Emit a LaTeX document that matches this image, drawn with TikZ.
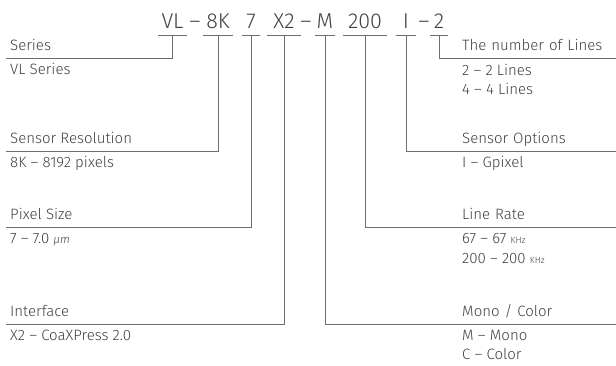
\documentclass[tikz,border=0pt]{standalone}
\usepackage{fontspec}
\setmainfont{Fira Sans}[UprightFont=* Light,ItalicFont=* Light Italic]
\usepackage{xcolor}
\definecolor{ink}{HTML}{404040}
\definecolor{rule}{HTML}{6E6E6E}
\begin{document}
\begin{tikzpicture}[x=1pt,y=-1pt,
	code/.style={anchor=base,font=\fontsize{21.5}{24}\selectfont,text=ink,inner sep=0pt},
	head/.style={anchor=south west,font=\fontsize{15}{18}\selectfont,text=ink,inner xsep=4pt,inner ysep=7pt,text depth=0pt},
	rhead/.style={head,text width=150pt},
	val/.style={anchor=base west,font=\fontsize{15}{18}\selectfont,text=ink,inner sep=0pt},
	bar/.style={draw=rule,line width=1pt},
	lead/.style={draw=rule,line width=1pt}]
		\useasboundingbox (0,0) rectangle (616,365);
		% the code
		\node (vl) [code] at (172.5,28) {VL};
		\node (d1) [code] at (195,28) {--};
		\node (res) [code] at (218,28) {8K};
		\node (px) [code] at (251,28) {7};
		\node (ifc) [code] at (284,28) {X2};
		\node (d2) [code] at (306,28) {--};
		\node (mc) [code] at (325,28) {M};
		\node (rate) [code] at (365,28) {200};
		\node (opt) [code] at (406,28) {I};
		\node (d3) [code] at (424,28) {--};
		\node (nl) [code] at (439,28) {2};
		\coordinate (vlb) at (172.5,35);
		\coordinate (resb) at (218,35);
		\coordinate (pxb) at (251,35);
		\coordinate (ifcb) at (284,35);
		\coordinate (mcb) at (325,35);
		\coordinate (rateb) at (365,35);
		\coordinate (optb) at (406,35);
		\coordinate (nlb) at (439,35);
		\draw[bar] (vlb) ++(-14.5,0) -- ++(29,0);
		\draw[bar] (resb) ++(-15,0) -- ++(30,0);
		\draw[bar] (pxb) ++(-9,0) -- ++(18,0);
		\draw[bar] (ifcb) ++(-17,0) -- ++(34,0);
		\draw[bar] (mcb) ++(-10,0) -- ++(20,0);
		\draw[bar] (rateb) ++(-22,0) -- ++(44,0);
		\draw[bar] (optb) ++(-10,0) -- ++(20,0);
		\draw[bar] (nlb) ++(-9,0) -- ++(18,0);
		% left side
		\node (series) [head] at (6,58) {Series};
		\node (sres) [head] at (6,151) {Sensor Resolution};
		\node (psize) [head] at (6,227) {Pixel Size};
		\node (iface) [head] at (6,324) {Interface};
		\node (vls) [val] at (10,74) {VL Series};
		\node (k8) [val] at (10,167) {8K -- 8192 pixels};
		\node (um7) [val] at (10,243) {7 -- 7.0 {\fontsize{11.5}{12}\selectfont\itshape µm}};
		\node (cxp) [val] at (10,340) {X2 -- CoaXPress 2.0};
		% right side
		\node (lines) [rhead] at (458,58) {The number of Lines};
		\node (sopt) [rhead] at (458,151) {Sensor Options};
		\node (lrate) [rhead] at (458,227) {Line Rate};
		\node (mono) [rhead] at (458,324) {Mono / Color};
		\node (l2) [val] at (462,75) {2 -- 2 Lines};
		\node (l4) [val] at (462,94) {4 -- 4 Lines};
		\node (gpx) [val] at (462,167) {I -- Gpixel};
		\node (r67) [val] at (462,243) {67 -- 67 {\fontsize{9}{10}\selectfont KHz}};
		\node (r200) [val] at (462,263) {200 -- 200 {\fontsize{9}{10}\selectfont KHz}};
		\node (mm) [val] at (462,340) {M -- Mono};
		\node (cc) [val] at (462,359) {C -- Color};
		% leads
		\draw[lead] (vlb) |- (series.south west);
		\draw[lead] (resb) |- (sres.south west);
		\draw[lead] (pxb) |- (psize.south west);
		\draw[lead] (ifcb) |- (iface.south west);
		\draw[lead] (mcb) |- (mono.south east);
		\draw[lead] (rateb) |- (lrate.south east);
		\draw[lead] (optb) |- (sopt.south east);
		\draw[lead] (nlb) |- (lines.south east);
\end{tikzpicture}
\end{document}
